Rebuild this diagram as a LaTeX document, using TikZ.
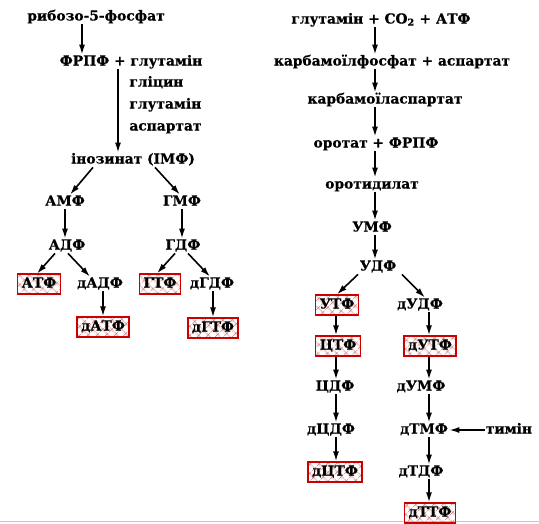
\documentclass[tikz,border=0pt]{standalone}
\usepackage{fontspec}
\setmainfont{DejaVu Serif}[BoldFeatures={FakeBold=0.6}]
\usetikzlibrary{arrows.meta,patterns.meta}
\tikzset{
 t/.style={font=\bfseries\fontsize{13.8}{16}\selectfont, inner sep=1.2pt, text height=9.5pt, text depth=2.5pt},
 bx/.style={t, draw=red!80!black, line width=1.3pt, pattern={Hatch[angle=45,distance=6.5pt,line width=0.6pt]}, pattern color=red!45!gray!80, inner xsep=4pt, minimum height=20pt},
 arr/.style={line width=1.6pt, -{Latex[length=10pt,width=6pt]}},
}
\begin{document}
\begin{tikzpicture}[x=1pt,y=-1pt]
\useasboundingbox (0,0) rectangle (539,523);
\draw[gray!45, line width=0.8pt] (0,521) -- (539,521);
% coordinates for arrow columns
\coordinate (cA) at (82,0);
\coordinate (cB) at (118,0);
\coordinate (cR) at (375,0);
\coordinate (cL) at (336,0);
\coordinate (cRR) at (429,0);
% left part
\node[t] (r5p) at (96,17) {рибозо-5-фосфат};
\node[t] (frpf) at (131,62) {ФРПФ + глутамін};
\node[t, anchor=west] (gly) at (128,83) {гліцин};
\node[t, anchor=west] (glu2) at (128,105) {глутамін};
\node[t, anchor=west] (asp) at (128,127) {аспартат};
\node[t] (ino) at (133,160) {інозинат (ІМФ)};
\node[t] (amf) at (65,202) {АМФ};
\node[t] (gmf) at (182,202) {ГМФ};
\node[t] (adf) at (67,246) {АДФ};
\node[t] (gdf) at (183,246) {ГДФ};
\node[bx] (atf) at (39,284) {АТФ};
\node[t] (dadf) at (100,284) {дАДФ};
\node[bx] (gtf) at (160,284) {ГТФ};
\node[t] (dgdf) at (212,284) {дГДФ};
\node[bx] (datf) at (103,327) {дАТФ};
\node[bx] (dgtf) at (213,328) {дГТФ};
% right part
\node[t] (glco) at (381,20) {глутамін + CO\textsubscript{2} + АТФ};
\node[t] (kfa) at (392,62) {карбамоїлфосфат + аспартат};
\node[t] (ka) at (385,100) {карбамоїласпартат};
\node[t] (orf) at (376,144) {оротат + ФРПФ};
\node[t] (orid) at (372,185) {оротидилат};
\node[t] (umf) at (372,228) {УМФ};
\node[t] (udf) at (378,267) {УДФ};
\node[bx] (utf) at (337,305) {УТФ};
\node[t] (dudf) at (420,305) {дУДФ};
\node[bx] (ctf) at (338,346) {ЦТФ};
\node[bx] (dutf) at (430,346) {дУТФ};
\node[t] (cdf) at (335,387) {ЦДФ};
\node[t] (dumf) at (421,387) {дУМФ};
\node[t] (dcdf) at (331,430) {дЦДФ};
\node[t] (dtmf) at (424,430) {дТМФ};
\node[t] (tym) at (509,430) {тимін};
\node[bx] (dctf) at (335,472) {дЦТФ};
\node[t] (dtdf) at (421,472) {дТДФ};
\node[bx] (dttf) at (430,513) {дТТФ};
% arrows left
\draw[arr] (r5p.south -| cA) -- (frpf.north -| cA);
\draw[arr] (frpf.south -| cB) -- (ino.north -| cB);
\draw[arr] ([xshift=-40pt]ino.south) -- ([xshift=5pt]amf.north);
\draw[arr] ([xshift=22pt]ino.south) -- ([xshift=-2pt]gmf.north);
\draw[arr] (amf.south) -- (amf.south |- adf.north);
\draw[arr] (gmf.south) -- (gmf.south |- gdf.north);
\draw[arr] ([xshift=-12pt]adf.south) -- ([xshift=-2pt]atf.north);
\draw[arr] ([xshift=1pt]adf.south) -- ([xshift=-10pt]dadf.north);
\draw[arr] ([xshift=-8pt]gdf.south) -- ([xshift=-3pt]gtf.north);
\draw[arr] ([xshift=5pt]gdf.south) -- ([xshift=-2pt]dgdf.north);
\draw[arr] (dadf.south -| datf.north) -- (datf.north);
\draw[arr] (dgdf.south -| dgtf.north) -- (dgtf.north);
% arrows right
\draw[arr] (glco.south -| cR) -- (kfa.north -| cR);
\draw[arr] (kfa.south -| cR) -- (ka.north -| cR);
\draw[arr] (ka.south -| cR) -- (orf.north -| cR);
\draw[arr] (orf.south -| cR) -- (orid.north -| cR);
\draw[arr] (orid.south -| cR) -- (umf.north -| cR);
\draw[arr] (umf.south -| cR) -- (udf.north -| cR);
\draw[arr] ([xshift=-20pt]udf.south) -- (utf.north);
\draw[arr] ([xshift=24pt]udf.south) -- ([xshift=5pt]dudf.north);
\draw[arr] (utf.south -| cL) -- (ctf.north -| cL);
\draw[arr] (ctf.south -| cL) -- (cdf.north -| cL);
\draw[arr] (cdf.south -| cL) -- (dcdf.north -| cL);
\draw[arr] (dcdf.south -| cL) -- (dctf.north -| cL);
\draw[arr] (dudf.south -| cRR) -- (dutf.north -| cRR);
\draw[arr] (dutf.south -| cRR) -- (dumf.north -| cRR);
\draw[arr] (dumf.south -| cRR) -- (dtmf.north -| cRR);
\draw[arr] (dtmf.south -| cRR) -- (dtdf.north -| cRR);
\draw[arr] (dtdf.south -| cRR) -- (dttf.north -| cRR);
\draw[arr] (tym.west) -- (dtmf.east);
\end{tikzpicture}
\end{document}
